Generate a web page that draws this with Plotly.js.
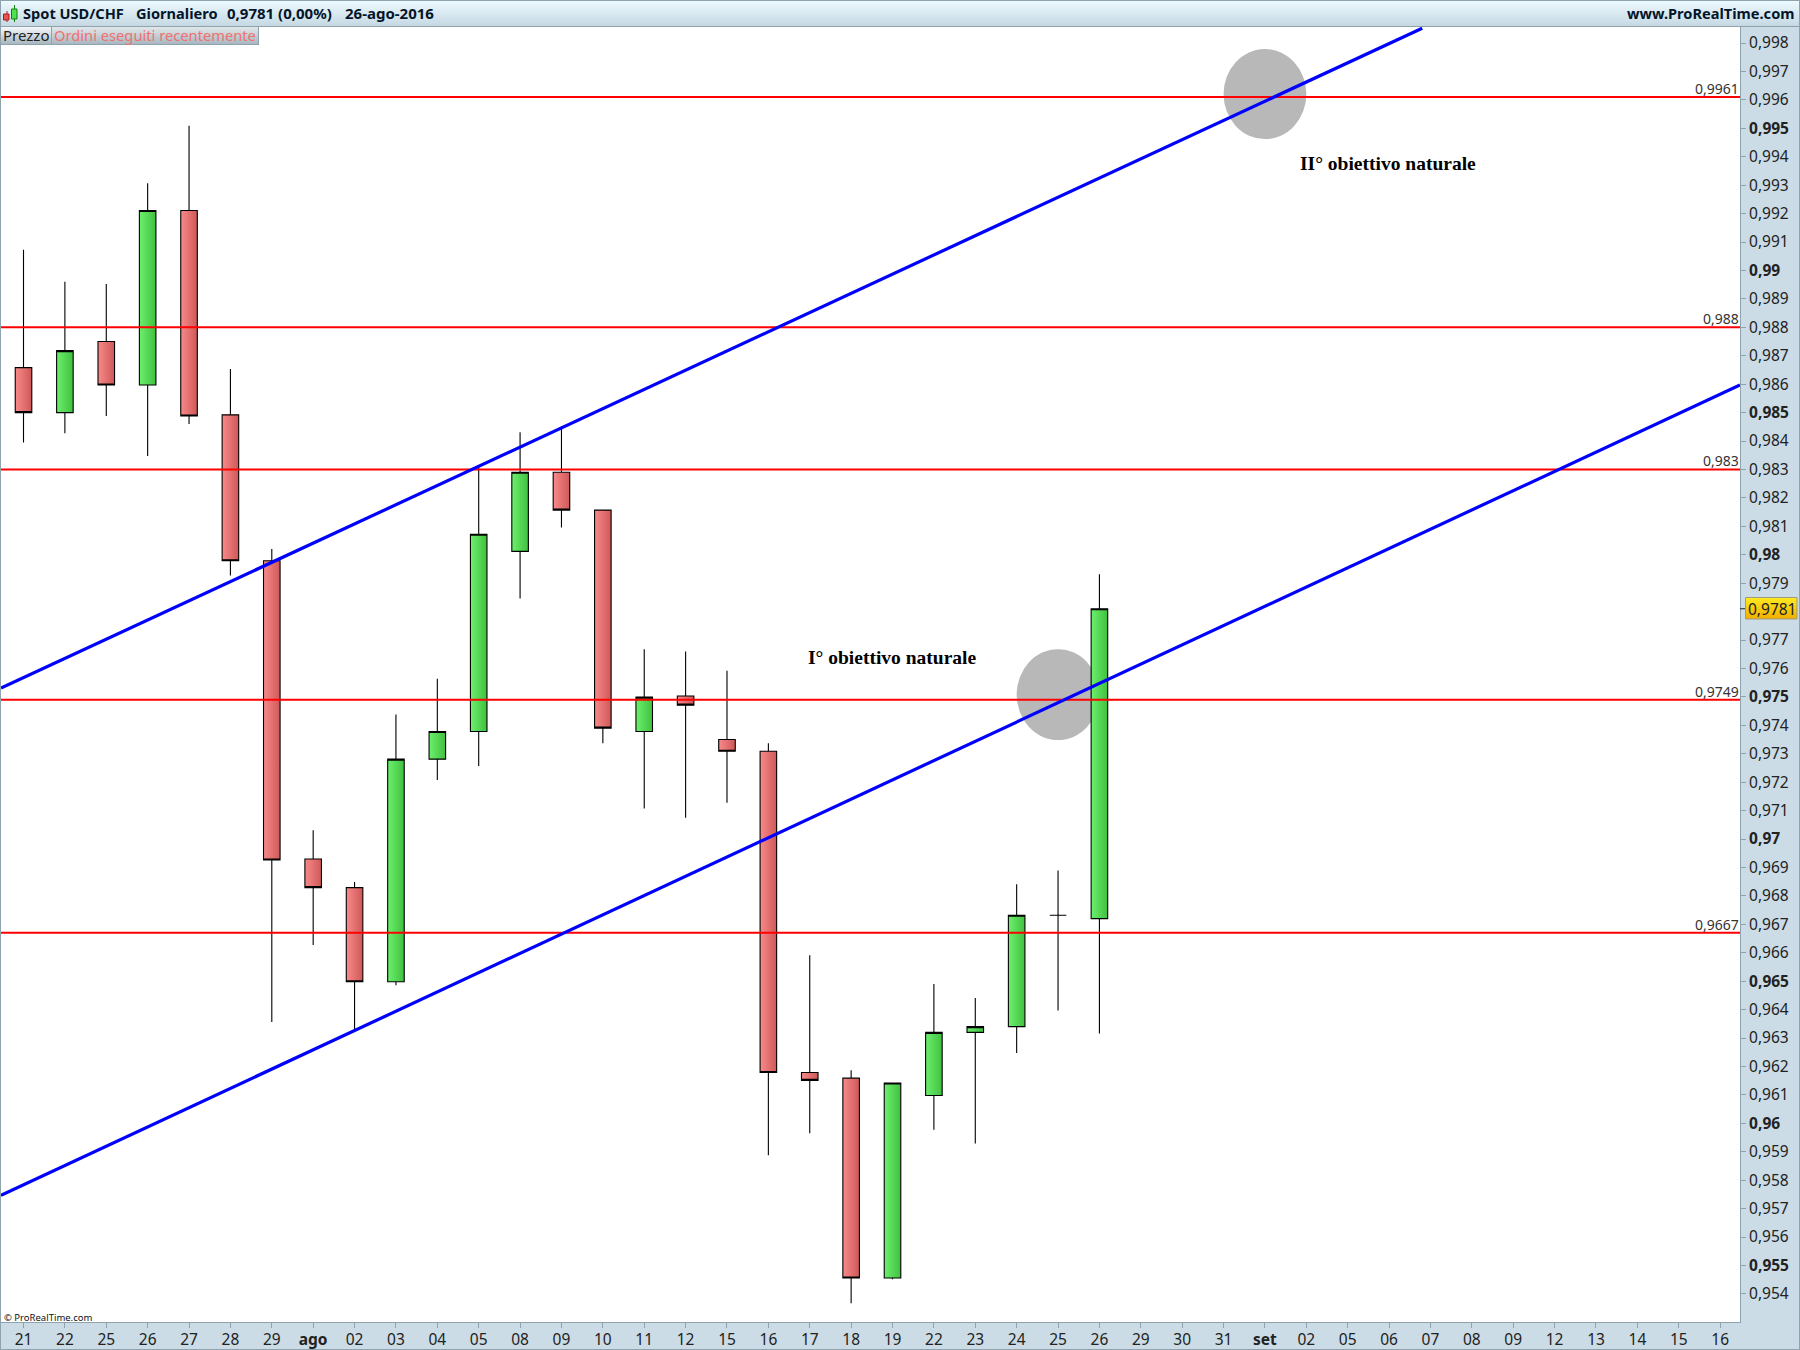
<!DOCTYPE html>
<html>
<head>
<meta charset="utf-8">
<script src="https://cdn.plot.ly/plotly-3.0.1.min.js"></script>
<style>html,body{margin:0;padding:0;background:#cbdce6}#chart{width:1800px;height:1350px}</style>
</head>
<body>
<div id="chart"></div>
<script>
const xLabels = ['21','22','25','26','27','28','29','<b>ago</b>','02','03','04','05','08','09','10','11','12','15','16','17','18','19','22','23','24','25','26','29','30','31','<b>set</b>','02','05','06','07','08','09','12','13','14','15','16'];
const openVals  = [.98658,.98500,.98750,.98597,.99211,.98492,.97979,.96930,.96829,.96498,.97281,.97378,.98012,.98290,.98157,.97378,.97503,.97350,.97309,.96179,.96159,.95456,.96098,.96320,.96340,.96732,.96720];
const highVals  = [.99073,.98960,.98952,.99307,.99509,.98653,.98020,.97031,.96849,.97438,.97564,.98314,.98431,.98452,.98157,.97668,.97660,.97592,.97337,.96591,.96187,.96142,.96490,.96441,.96841,.96889,.97931];
const lowVals   = [.98395,.98427,.98488,.98347,.98460,.97927,.96356,.96627,.96332,.96486,.97208,.97257,.97846,.98096,.97337,.97107,.97075,.97128,.95888,.95965,.95367,.95452,.95977,.95929,.96247,.96397,.96316];
const closeVals = [.98500,.98718,.98597,.99211,.98488,.97979,.96926,.96829,.96498,.97281,.97378,.98072,.98290,.98157,.97390,.97499,.97471,.97309,.96179,.96151,.95456,.96142,.96320,.96340,.96732,.96732,.97810];
const levels = [.9961,.988,.983,.9749,.9667];
const levelLabels = ['0,9961','0,988','0,983','0,9749','0,9667'];
const upperLineX = [-0.544,33.8];
const upperLineY = [.97531,.99852];
const lowerLineX = [-0.544,41.48];
const lowerLineY = [.95747,.98597];
const zoneX = [[29,31],[24,26]];
const zoneY = [[.99462,.99779],[.97348,.97668]];
const yTicks = [];
const yTickText = [];
for (let m = 954; m <= 998; m++) {
  if (m === 978) continue;
  yTicks.push(m / 1000);
  const s = '0,' + m;
  yTickText.push(m % 5 === 0 ? '<b>' + (m % 10 === 0 ? s.slice(0, 4) : s) + '</b>' : s);
}
const lastPriceText = '0,9781';
const lastPrice = 0.9781;

const idx = xLabels.map((_, i) => i);
const nC = openVals.length;
const xRange = [-0.544, 41.48];
const FONT = '"Noto Sans", "Open Sans", sans-serif';
const GRID = '#8fa3ae';
const px = v => (v - 1) / 1739;
const py = v => 1 - (v - 27) / 1295;

function hex(c){return [1,3,5].map(i=>parseInt(c.substr(i,2),16));}
function strips(x0,x1,y0,y1,c0,c1){
  const a=hex(c0),b=hex(c1),out=[];const n=Math.round(y1-y0);
  for(let i=0;i<n;i++){
    const t=n>1?i/(n-1):0;
    const c=`rgb(${a.map((v,k)=>Math.round(v+(b[k]-v)*t)).join(',')})`;
    out.push({type:'rect',xref:'paper',yref:'paper',x0:px(x0),x1:px(x1),y0:py(y0+i),y1:py(y0+i+1),fillcolor:c,line:{width:0},layer:'above'});
  }
  return out;
}
function box(x0,x1,y0,y1,fill,line,lw){
  return {type:'rect',xref:'paper',yref:'paper',x0:px(x0),x1:px(x1),y0:py(y0),y1:py(y1),fillcolor:fill||'rgba(0,0,0,0)',line:{color:line||'rgba(0,0,0,0)',width:lw===undefined?1:lw},layer:'above'};
}
function label(x,y,text,size,color,xanchor,bold,family){
  return {xref:'paper',yref:'paper',x:px(x),y:py(y),text:bold?'<b>'+text+'</b>':text,showarrow:false,xanchor:xanchor||'left',yanchor:'middle',borderpad:0,
    font:{family:family||FONT,size:size,color:color}};
}

const traces = [{
  type:'candlestick',x:idx.slice(0,nC),open:openVals,high:highVals,low:lowVals,close:closeVals,
  increasing:{line:{color:'#000',width:1.1},fillcolor:'#55dd55'},
  decreasing:{line:{color:'#000',width:1.1},fillcolor:'#e86a6a'},
  whiskerwidth:0,hoverinfo:'skip',showlegend:false
}];
levels.forEach(v=>traces.push({type:'scatter',mode:'lines',x:xRange,y:[v,v],line:{color:'#ff0000',width:2},hoverinfo:'skip',showlegend:false}));
traces.push({type:'scatter',mode:'lines',x:upperLineX,y:upperLineY,line:{color:'#0000ff',width:3.2},hoverinfo:'skip',showlegend:false});
traces.push({type:'scatter',mode:'lines',x:lowerLineX,y:lowerLineY,line:{color:'#0000ff',width:3.2},hoverinfo:'skip',showlegend:false});

const shapes = [];
zoneX.forEach((z,i)=>shapes.push({type:'circle',xref:'x',yref:'y',x0:z[0],x1:z[1],y0:zoneY[i][0],y1:zoneY[i][1],fillcolor:'#b8b8b8',line:{width:0},layer:'below'}));
shapes.push(...strips(0,1800,1,26,'#ecf9fe','#c6d9e3'));
shapes.push(box(0,1800,0,1,GRID,null,0));
shapes.push(box(0,1800,26,27,GRID,null,0));
shapes.push(box(0,1,0,1350,GRID,null,0));
shapes.push(box(1799,1800,0,1350,GRID,null,0));
shapes.push(box(0,1800,1349,1350,GRID,null,0));
shapes.push(...strips(1,51,27,44,'#f4f7f9','#a9b8c1'));
shapes.push(...strips(52,258,27,44,'#dfe6ea','#a9b8c1'));
shapes.push(box(51,52,27,44,GRID,null,0));
shapes.push(box(258,259,27,44,GRID,null,0));
shapes.push(box(1,259,44,45,GRID,null,0));
// icon
shapes.push({type:'line',xref:'paper',yref:'paper',x0:px(7),x1:px(7),y0:py(11),y1:py(22),line:{color:'#a02020',width:1},layer:'above'});
shapes.push(box(3.5,9,14,20,'#f05050','#a02020',1));
shapes.push({type:'line',xref:'paper',yref:'paper',x0:px(14.5),x1:px(14.5),y0:py(5),y1:py(22),line:{color:'#108010',width:1},layer:'above'});
shapes.push(box(11.5,17,9,19,'#50e050','#108010',1));
// last price tag
shapes.push(...strips(1746,1797,598,619,'#ffe820','#f0b000'));
shapes.push(box(1745.5,1797,597.5,619,null,'#a09a80',1));
shapes.push({type:'line',xref:'paper',yref:'y',x0:px(1740),x1:px(1745),y0:lastPrice,y1:lastPrice,line:{color:'#222',width:1},layer:'above'});

const annotations = [
  label(22,13,'Spot USD/CHF',14.6,'#05152a','left',true),
  label(135,13,'Giornaliero',14.6,'#05152a','left',true),
  label(226,13,'0,9781 (0,00%)',15,'#05152a','left',true),
  label(344,13,'26-ago-2016',15,'#05152a','left',true),
  label(1796,13,'www.ProRealTime.com',14.6,'#05152a','right',true),
  label(2,35.5,'Prezzo',15,'#222','left',false),
  label(53,35.5,'Ordini eseguiti recentemente',14.7,'#f07070','left',false),
  label(3,1317,'© ProRealTime.com',9.5,'#111','left',false),
  label(1388,164,'II° obiettivo naturale',19.5,'#000','center',true,'"Liberation Serif", serif'),
  label(892,657,'I° obiettivo naturale',19.5,'#000','center',true,'"Liberation Serif", serif'),
  label(1771.5,609,lastPriceText,15.5,'#222','center',false)
];
levels.forEach((v,i)=>annotations.push({xref:'paper',yref:'y',x:px(1740),y:v,yshift:-2,text:levelLabels[i],showarrow:false,xanchor:'right',yanchor:'bottom',borderpad:0,font:{family:FONT,size:14,color:'#333'}}));

const layout = {
  width:1800,height:1350,paper_bgcolor:'#cbdce6',plot_bgcolor:'#ffffff',
  margin:{l:1,r:60,t:27,b:28,pad:0},showlegend:false,dragmode:false,
  boxgap:0.6,boxgroupgap:0,
  xaxis:{type:'linear',range:xRange,tickmode:'array',tickvals:idx,ticktext:xLabels,ticks:'outside',ticklen:5,tickcolor:GRID,tickwidth:1,
    showgrid:false,zeroline:false,showline:true,linecolor:GRID,linewidth:1,rangeslider:{visible:false},tickangle:0,ticklabelstandoff:-2,
    tickfont:{family:FONT,size:15.5,color:'#222'},fixedrange:true},
  yaxis:{side:'right',range:[.953012,.998563],tickmode:'array',tickvals:yTicks,ticktext:yTickText,ticks:'outside',ticklen:5,tickcolor:GRID,tickwidth:1,
    showgrid:false,zeroline:false,showline:true,linecolor:GRID,linewidth:1,
    tickfont:{family:FONT,size:15.5,color:'#222'},fixedrange:true},
  shapes:shapes,annotations:annotations
};

Plotly.newPlot('chart',traces,layout,{displayModeBar:false,staticPlot:true}).then(()=>{
  const svg=document.querySelector('#chart .main-svg');
  const ns='http://www.w3.org/2000/svg';
  const defs=svg.querySelector('defs')||svg.insertBefore(document.createElementNS(ns,'defs'),svg.firstChild);
  function grad(id,a,b){
    const g=document.createElementNS(ns,'linearGradient');g.setAttribute('id',id);
    g.setAttribute('x1','0');g.setAttribute('x2','1');g.setAttribute('y1','0');g.setAttribute('y2','0');
    [[0,a],[1,b]].forEach(s=>{const st=document.createElementNS(ns,'stop');st.setAttribute('offset',s[0]);st.setAttribute('stop-color',s[1]);g.appendChild(st);});
    defs.appendChild(g);
  }
  grad('gUp','#6cf06c','#40c040');
  grad('gDn','#f88a8a','#cf5858');
  document.querySelectorAll('#chart .boxlayer path.box').forEach(p=>{
    const f=getComputedStyle(p).fill;
    if(f.indexOf('85, 221, 85')>=0) p.style.fill='url(#gUp)';
    else if(f.indexOf('232, 106, 106')>=0) p.style.fill='url(#gDn)';
  });
});
</script>
</body>
</html>
